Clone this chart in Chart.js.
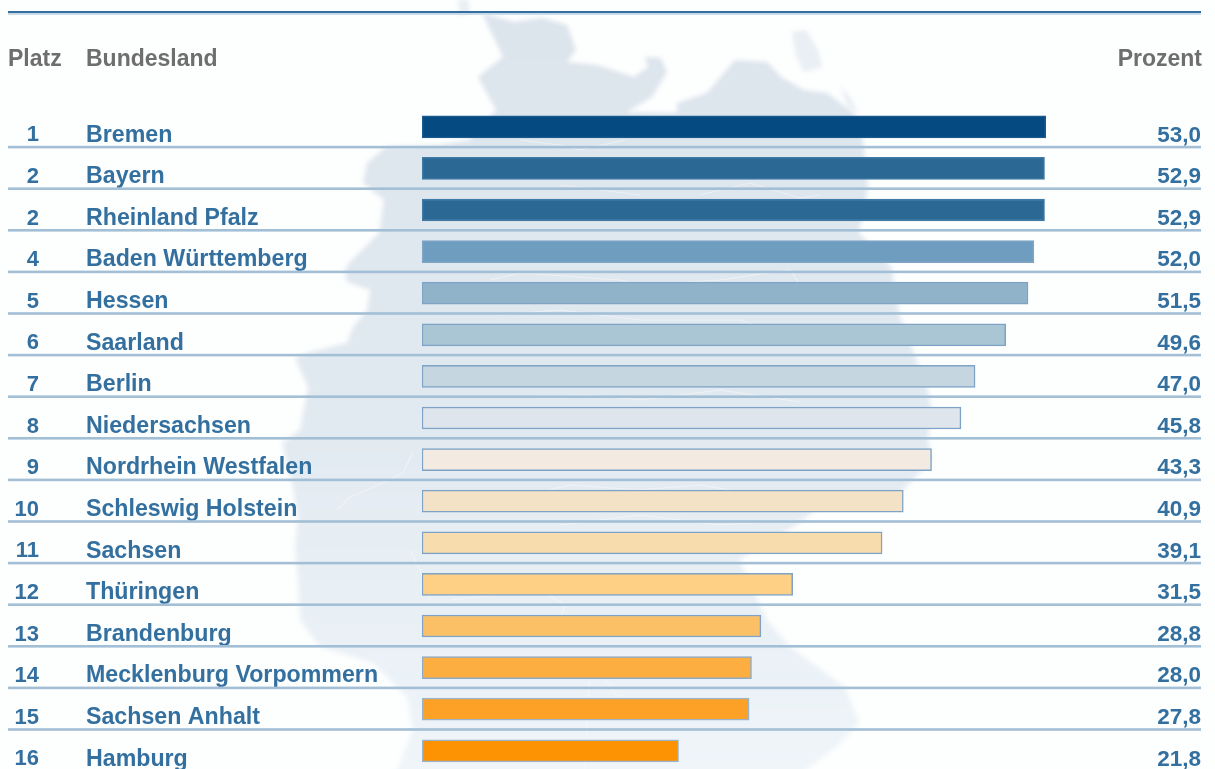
<!DOCTYPE html>
<html lang="de">
<head>
<meta charset="utf-8">
<title>Bundesländer</title>
<script src="https://cdn.jsdelivr.net/npm/chart.js@4"></script>
<style>
html,body{margin:0;padding:0;background:#fdfefe;width:1215px;height:769px;overflow:hidden}
#wrap{position:absolute;left:0;top:0;width:1215px;height:800px}
canvas{display:block;filter:blur(0.7px)}
</style>
</head>
<body>
<div id="wrap"><canvas id="c" width="1215" height="800"></canvas></div>
<script>
const ranks = ["1","2","2","4","5","6","7","8","9","10","11","12","13","14","15","16"];
const states = ["Bremen","Bayern","Rheinland Pfalz","Baden Württemberg","Hessen","Saarland","Berlin","Niedersachsen","Nordrhein Westfalen","Schleswig Holstein","Sachsen","Thüringen","Brandenburg","Mecklenburg Vorpommern","Sachsen Anhalt","Hamburg"];
const percents = [53.0,52.9,52.9,52.0,51.5,49.6,47.0,45.8,43.3,40.9,39.1,31.5,28.8,28.0,27.8,21.8];
const barColors = ["#054a80","#2c6894","#2c6894","#6f9dbf","#90b3c9","#aac6d5","#c5d6e0","#dfe5ec","#f3ebe1","#f4e2c6","#f7dcad","#fdd086","#fbbf65","#fcae40","#fca026","#fd9203"];
const barBorders = ["#1a5a8e","#3f7aa6","#3f7aa6","#7ea5c6","#7ea3c6","#7ea3c6","#7ea3c6","#7ea3c6","#7ea3c6","#7ea3c6","#7ea3c6","#7ea3c6","#7ea3c6","#8eaac6","#9ab4cc","#9ab4cc"];
const headers = ["Platz","Bundesland","Prozent"];

const BLUE = "#33709f";
const FONT = '"Liberation Sans", Arial, sans-serif';

// decorative background silhouette (not data)
const mapOutline = [[482,13],[514,22],[542,18],[567,25],[576,50],[567,62],[597,65],[634,77],[648,67],[645,57],[661,58],[667,72],[652,97],[627,112],[677,113],[677,103],[707,93],[735,60],[767,62],[781,77],[804,90],[827,93],[854,113],[863,140],[868,187],[859,233],[891,267],[900,317],[928,390],[932,413],[928,440],[932,460],[900,493],[827,500],[799,523],[739,560],[767,620],[790,647],[845,687],[859,723],[836,747],[799,775],[395,775],[413,730],[407,697],[373,663],[320,647],[300,620],[298,580],[295,547],[298,520],[293,487],[282,443],[300,430],[308,387],[295,358],[310,352],[347,343],[353,327],[367,310],[370,290],[347,282],[345,270],[349,263],[379,233],[384,200],[363,183],[367,163],[386,147],[439,145],[469,140],[496,110],[478,77],[503,57]];
const mapIslands = [[[458,0],[468,0],[470,12],[460,16]],[[792,32],[806,30],[818,50],[822,67],[804,72],[796,55]],[[840,85],[852,100],[858,113],[848,108]]];
const mapBorders = [[[413,452],[403,473],[383,483],[350,497],[337,510]],[[410,550],[420,570],[430,600]],[[520,140],[560,145],[580,150],[625,140]],[[560,185],[600,190],[640,195]],[[700,195],[750,183],[800,198],[820,195]],[[490,280],[520,273],[620,280],[640,285],[720,280],[790,270],[800,285]],[[500,315],[560,310],[640,320],[740,320],[770,330]],[[510,397],[590,395],[640,400],[720,390],[800,402]],[[530,495],[570,485],[640,490],[700,485],[790,500]],[[560,525],[640,515],[720,525],[800,520]],[[450,600],[540,590],[565,605],[560,620]],[[620,700],[590,660],[585,770]]];

const backdrop = {
  id:"backdrop",
  beforeDraw(chart){
    const ctx = chart.ctx;
    ctx.save();
    const g = ctx.createLinearGradient(0,0,0,769);
    g.addColorStop(0,"#dce4ec");
    g.addColorStop(0.55,"#e2eaf1");
    g.addColorStop(1,"#eff5f9");
    ctx.fillStyle = g;
    ctx.filter = "blur(2px)";
    [mapOutline,...mapIslands].forEach((poly,k)=>{
      ctx.globalAlpha = k===0 ? 1 : 0.6;
      ctx.beginPath();
      poly.forEach((p,i)=> i?ctx.lineTo(p[0],p[1]):ctx.moveTo(p[0],p[1]));
      ctx.closePath();
      ctx.fill();
    });
    ctx.globalAlpha = 1;
    ctx.filter = "blur(0.6px)";
    ctx.strokeStyle = "rgba(255,255,255,0.4)";
    ctx.lineWidth = 1.2;
    mapBorders.forEach(line=>{
      ctx.beginPath();
      line.forEach((p,i)=> i?ctx.lineTo(p[0],p[1]):ctx.moveTo(p[0],p[1]));
      ctx.stroke();
    });
    ctx.restore();
  }
};

const table = {
  id:"table",
  beforeDatasetsDraw(chart){
    const ctx = chart.ctx, y = chart.scales.y;
    ctx.save();
    ctx.fillStyle = "#c9dbe8"; ctx.fillRect(8,11,1193,4);
    ctx.fillStyle = "#336e9e"; ctx.fillRect(8,11,1193,2);
    states.forEach((s,i)=>{
      const p = y.getPixelForValue(i) + 20;
      ctx.fillStyle = i===states.length-1 ? "#dbe7f0" : "#a3bfd5";
      ctx.fillRect(8,p-1,1193,2.6);
    });
    ctx.restore();
  },
  afterDraw(chart){
    const ctx = chart.ctx, y = chart.scales.y;
    ctx.save();
    ctx.textBaseline = "middle";
    ctx.fillStyle = "#6e6e6e";
    ctx.font = `bold 23px ${FONT}`;
    ctx.textAlign = "left";
    ctx.fillText(headers[0],8,60);
    ctx.fillText(headers[1],86,60);
    ctx.textAlign = "right";
    ctx.fillText(headers[2],1202,60);
    ctx.fillStyle = BLUE;
    states.forEach((s,i)=>{
      const p = y.getPixelForValue(i) + 8.5;
      ctx.textAlign = "right";
      ctx.font = `bold 22px ${FONT}`;
      ctx.fillText(ranks[i],39,p);
      ctx.font = `bold 22.5px ${FONT}`;
      ctx.fillText(percents[i].toFixed(1).replace(".",","),1201,p);
    });
    ctx.restore();
  }
};

new Chart(document.getElementById("c"),{
  type:"bar",
  plugins:[backdrop,table],
  data:{
    labels:states,
    datasets:[{
      data:percents,
      backgroundColor:barColors,
      borderColor:barBorders,
      borderWidth:1.5,
      barThickness:22,
      borderSkipped:false
    }]
  },
  options:{
    indexAxis:"y",
    responsive:false,
    animation:false,
    events:[],
    layout:{padding:{left:86,right:14,top:106,bottom:28.4}},
    plugins:{legend:{display:false},tooltip:{enabled:false},title:{display:false}},
    scales:{
      x:{display:false,min:0,max:66.2},
      y:{
        grid:{display:false},
        border:{display:false},
        afterFit(s){s.width=336;},
        ticks:{
          autoSkip:false,
          crossAlign:"far",
          labelOffset:8.5,
          color:BLUE,
          font:{family:FONT,size:23.2,weight:"bold"}
        }
      }
    }
  }
});
</script>
</body>
</html>
